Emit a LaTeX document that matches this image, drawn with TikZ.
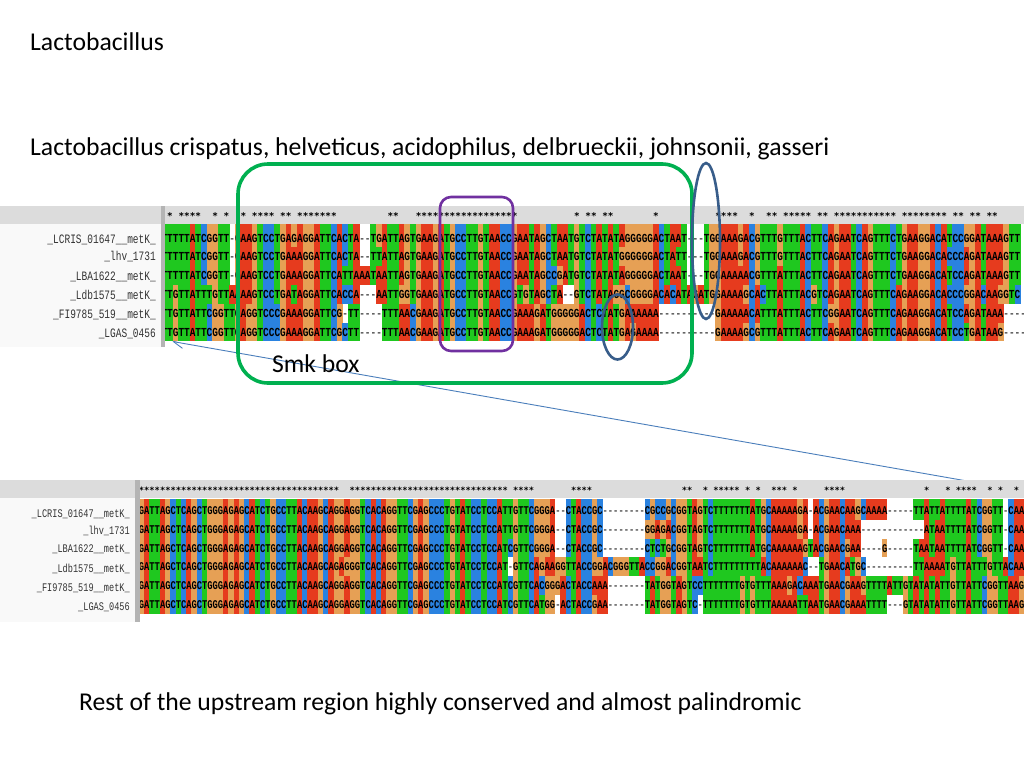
\documentclass[tikz,border=0pt]{standalone}
\usepackage{fontspec}
\usepackage{graphicx}
\setmainfont{Carlito}
\newfontfamily\seqfont{Liberation Mono}
\newfontfamily\starfont{DejaVu Sans Mono}
\usetikzlibrary{shapes.geometric,arrows.meta}
\definecolor{seqA}{HTML}{E63B1E}
\definecolor{seqT}{HTML}{1FC81F}
\definecolor{seqC}{HTML}{2A82E0}
\definecolor{seqG}{HTML}{E6A055}
\definecolor{dashgray}{HTML}{555555}
\definecolor{headband}{HTML}{DCDCDC}
\definecolor{labelbg}{HTML}{F9F9F9}
\definecolor{sepbar}{HTML}{B4B4B4}
\definecolor{boxgreen}{HTML}{00B050}
\definecolor{boxpurple}{HTML}{7030A0}
\definecolor{ovalblue}{HTML}{385D8A}
\definecolor{leaderblue}{HTML}{4A7EBB}
\tikzset{
  slidetext/.style={anchor=base west,inner sep=0pt,font=\fontsize{25.67}{30}\selectfont},
  toplabel/.style={anchor=base east,inner sep=0pt,text=black!80,font=\seqfont\fontsize{9.5}{10}\selectfont},
  botlabel/.style={anchor=base east,inner sep=0pt,text=black!80,font=\seqfont\fontsize{8.6}{10}\selectfont},
  seqtext/.style={anchor=base west,inner sep=0pt},
  oval/.style={draw=ovalblue,line width=2.6pt,ellipse,inner sep=0pt},
}
\newcount\ci
\def\cellone#1{\ifx#1-\else\fill[seq#1] ({\xst+\the\ci*\cw},\yt) rectangle ({\xst+\the\ci*\cw+\cw+0.4},\yb);\fi\global\advance\ci by 1 }
\def\cellsloop#1{\ifx#1\relax\else\cellone{#1}\expandafter\cellsloop\fi}
\def\txtloop#1{\ifx#1\relax\else\ifx#1-\textcolor{dashgray}{-}\else#1\fi\expandafter\txtloop\fi}
% row: string macro, top, bottom
\def\seqcells#1#2#3{\def\yt{#2}\def\yb{#3}\global\ci=0 \expandafter\cellsloop#1\relax}
\def\starfrom{1}
\ExplSyntaxOn
\NewDocumentCommand\starline{mmmmmm}{
  \int_step_inline:nn {\str_count:N #1} {
    \bool_if:nTF {
      \int_compare_p:n { ##1 >= \starfrom } &&
      \str_if_eq_p:ee {\str_item:Nn #1 {##1}} {\str_item:Nn #2 {##1}} &&
      \str_if_eq_p:ee {\str_item:Nn #1 {##1}} {\str_item:Nn #3 {##1}} &&
      \str_if_eq_p:ee {\str_item:Nn #1 {##1}} {\str_item:Nn #4 {##1}} &&
      \str_if_eq_p:ee {\str_item:Nn #1 {##1}} {\str_item:Nn #5 {##1}} &&
      \str_if_eq_p:ee {\str_item:Nn #1 {##1}} {\str_item:Nn #6 {##1}} &&
      ! \str_if_eq_p:ee {\str_item:Nn #1 {##1}} {-}
    } { * } { \hphantom{*} }
  }
}
\ExplSyntaxOff
\def\ra{TTTTTATCGGTT-GAAGTCCTGAGAGGATTCACTA--TGATTAGTGAAGATGCCTTGTAACCGAATAGCTAATGTCTATATAGGGGGACTAAT---TGGAAAGACGTTTGTTTACTTCAGAATCAGTTTCTGAAGGACATCCGGATAAAGTT}
\def\rb{TTTTTATCGGTT-GAAGTCCTGAAAGGATTCACTA--TTATTAGTGAAGATGCCTTGTAACCGAATAGCTAATGTCTATATGGGGGGACTATT---TGGAAAGACGTTTGTTTACTTCAGAATCAGTTTCTGAAGGACACCCAGATAAAGTT}
\def\rc{TTTTTATCGGTT-GAAGTCCTGAAAGGATTCATTAAATAATTAGTGAAGATGCCTTGTAACCGAATAGCCGATGTCTATATAGGGGGACTAAT---TGGAAAAACGTTTATTTACTTCAGAATCAGTTTCTGAAGGACATCCAGATAAAGTT}
\def\rd{TTGTTATTTGTTAAAAGTCCTGATAGGATTCACCA---AATTGGTGAAGATGCCTTGTAACCGTGTAGCTA--GTCTATAGGCGGGGACACATAGATGGAAAAGCACTTATTTACGTCAGAATCAGTTTCAGAAGGACACCCGGACAAGGTC}
\def\re{TTGTTATTCGGTTGAGGTCCCGAAAGGATTCG-TT----TTTAACGAAGATGCCTTGTAACCGAAAGATGGGGGACTCTATGAAAAAA----------GAAAAACATTTATTTACTTCGGAATCAGTTTCAGAAGGACATCCAGATAAA----}
\def\rf{TTGTTATTCGGTTGAGGTCCCGAAAGGATTCGCTT----TTTAACGAAGATGCCTTGTAACCGAAAGATGGGGGACTCTATGAGAAAA----------GAAAAGCGTTTATTTACTTCAGAATCAGTTTCAGAAGGACATCCTGATAAG----}
\def\sa{GATTAGCTCAGCTGGGAGAGCATCTGCCTTACAAGCAGGAGGTCACAGGTTCGAGCCCTGTATCCTCCATTGTTCGGGA--CTACCGC--------CGCCGCGGTAGTCTTTTTTTATGCAAAAAGA-ACGAACAAGCAAAA-----TTATTATTTTATCGGTT-CAA}
\def\sb{GATTAGCTCAGCTGGGAGAGCATCTGCCTTACAAGCAGGAGGTCACAGGTTCGAGCCCTGTATCCTCCATTGTTCGGGA--CTACCGC--------GGAGACGGTAGTCTTTTTTTATGCAAAAAGA-ACGAACAAA------------ATAATTTTATCGGTT-CAA}
\def\sc{GATTAGCTCAGCTGGGAGAGCATCTGCCTTACAAGCAGGAGGTCACAGGTTCGAGCCCTGTATCCTCCATCGTTCGGGA--CTACCGC--------CTCTGCGGTAGTCTTTTTTTATGCAAAAAAGTACGAACGAA----G-----TAATAATTTTATCGGTT-CAA}
\def\sd{GATTAGCTCAGCTGGGAGAGCATCTGCCTTACAAGCAGAGGGTCACAGGTTCGAGCCCTGTATCCTCCAT-GTTCAGAAGGTTACCGGACGGGTTACCGGACGGTAATCTTTTTTTTTACAAAAAAC--TGAACATGC---------TTAAAATGTTATTTGTTACAA}
\def\se{GATTAGCTCAGCTGGGAGAGCATCTGCCTTACAAGCAGGAGGTCACAGGTTCGAGCCCTGTATCCTCCATCGTTCACGGGACTACCAAA-------TATGGTAGTCCTTTTTTTGTGTTTAAAGACAAATGAACGAAGTTTTATTGTATATATTGTTATTCGGTTAAG}
\def\sf{GATTAGCTCAGCTGGGAGAGCATCTGCCTTACAAGCAGGAGGTCACAGGTTCGAGCCCTGTATCCTCCATCGTTCATGG-ACTACCGAA-------TATGGTAGTC-TTTTTTTGTGTTTAAAAATTAATGAACGAAATTTT---GTATATATTGTTATTCGGTTAAG}
\begin{document}
\begin{tikzpicture}[x=1pt,y=-1pt]
\useasboundingbox (0,0) rectangle (1024,768);
\fill[white] (0,0) rectangle (1024,768);
% leader line lies under the panels
\coordinate (leadEnd) at (172.5,341.5);
\coordinate (leadStart) at (967,481);
\draw[leaderblue,line width=0.9pt,-{Straight Barb[length=10pt,width=10pt,line width=0.9pt]}] (leadStart) -- (leadEnd);
% top panel
\fill[labelbg] (0,224) rectangle (162,347);
\fill[headband] (0,206) rectangle (1024,224);
\fill[sepbar] (161,206) rectangle (165,347);
\begin{scope}
\clip (165,206) rectangle (1024,347);
\def\cw{5.65}\def\xst{161.35}
\seqcells\ra{224}{247}
\seqcells\rb{247}{266}
\seqcells\rc{266}{285}
\seqcells\rd{285}{304}
\seqcells\re{304}{323}
\seqcells\rf{323}{341}
\def\seqface{\seqfont\bfseries\fontsize{9.415}{10}\selectfont}
\def\starfrom{2}
\node[seqtext,font=\starfont\bfseries\fontsize{9.386}{10}\selectfont] (topstars) at (\xst,219.5) {\starline\ra\rb\rc\rd\re\rf};
\node[seqtext,font=\seqface] (topa) at (\xst,242) {\scalebox{1}[1.3]{\expandafter\txtloop\ra\relax}};
\node[seqtext,font=\seqface] (topb) at (\xst,260.5) {\scalebox{1}[1.3]{\expandafter\txtloop\rb\relax}};
\node[seqtext,font=\seqface] (topc) at (\xst,279.5) {\scalebox{1}[1.3]{\expandafter\txtloop\rc\relax}};
\node[seqtext,font=\seqface] (topd) at (\xst,298.5) {\scalebox{1}[1.3]{\expandafter\txtloop\rd\relax}};
\node[seqtext,font=\seqface] (tope) at (\xst,317.5) {\scalebox{1}[1.3]{\expandafter\txtloop\re\relax}};
\node[seqtext,font=\seqface] (topf) at (\xst,336.5) {\scalebox{1}[1.3]{\expandafter\txtloop\rf\relax}};
\end{scope}
\node[toplabel] (lta) at (156,243.5) {\scalebox{1}[1.35]{\_LCRIS\_01647\_\_metK\_}};
\node[toplabel] (ltb) at (156,260) {\scalebox{1}[1.35]{\_lhv\_1731}};
\node[toplabel] (ltc) at (156,280) {\scalebox{1}[1.35]{\_LBA1622\_\_metK\_}};
\node[toplabel] (ltd) at (156,299) {\scalebox{1}[1.35]{\_Ldb1575\_\_metK\_}};
\node[toplabel] (lte) at (156,318) {\scalebox{1}[1.35]{\_FI9785\_519\_\_metK\_}};
\node[toplabel] (ltf) at (156,337) {\scalebox{1}[1.35]{\_LGAS\_0456}};
% bottom panel
\fill[labelbg] (0,498) rectangle (136,622);
\fill[headband] (0,480) rectangle (1024,498);
\fill[sepbar] (135,480) rectangle (140,622);
\begin{scope}
\clip (140,480) rectangle (1024,622);
\def\cw{5.27}\def\xst{138.73}
\seqcells\sa{498.5}{520}
\seqcells\sb{520}{538.5}
\seqcells\sc{538.5}{557}
\seqcells\sd{557}{576}
\seqcells\se{576}{595}
\seqcells\sf{595}{614}
\def\seqface{\seqfont\bfseries\fontsize{8.782}{10}\selectfont}
\def\starfrom{1}
\node[seqtext,font=\starfont\bfseries\fontsize{8.754}{10}\selectfont] (botstars) at (\xst,493.5) {\starline\sa\sb\sc\sd\se\sf};
\node[seqtext,font=\seqface] (bota) at (\xst,514.5) {\scalebox{1}[1.35]{\expandafter\txtloop\sa\relax}};
\node[seqtext,font=\seqface] (botb) at (\xst,533) {\scalebox{1}[1.35]{\expandafter\txtloop\sb\relax}};
\node[seqtext,font=\seqface] (botc) at (\xst,552) {\scalebox{1}[1.35]{\expandafter\txtloop\sc\relax}};
\node[seqtext,font=\seqface] (botd) at (\xst,570.5) {\scalebox{1}[1.35]{\expandafter\txtloop\sd\relax}};
\node[seqtext,font=\seqface] (bote) at (\xst,589.5) {\scalebox{1}[1.35]{\expandafter\txtloop\se\relax}};
\node[seqtext,font=\seqface] (botf) at (\xst,608.5) {\scalebox{1}[1.35]{\expandafter\txtloop\sf\relax}};
\end{scope}
\node[botlabel] (lba) at (130,517.5) {\scalebox{1}[1.35]{\_LCRIS\_01647\_\_metK\_}};
\node[botlabel] (lbb) at (130,534) {\scalebox{1}[1.35]{\_lhv\_1731}};
\node[botlabel] (lbc) at (130,552) {\scalebox{1}[1.35]{\_LBA1622\_\_metK\_}};
\node[botlabel] (lbd) at (130,572) {\scalebox{1}[1.35]{\_Ldb1575\_\_metK\_}};
\node[botlabel] (lbe) at (130,591) {\scalebox{1}[1.35]{\_FI9785\_519\_\_metK\_}};
\node[botlabel] (lbf) at (130,610) {\scalebox{1}[1.35]{\_LGAS\_0456}};
% annotations
\draw[boxgreen,line width=3.6pt,rounded corners=30pt] (238,164) rectangle (692,383);
\draw[boxpurple,line width=2.6pt,rounded corners=11pt] (440,197) rectangle (513,351);
\node[oval,minimum width=28pt,minimum height=156pt] (ovalA) at (706,241) {};
\node[oval,minimum width=31pt,minimum height=65pt] (ovalB) at (617.5,327) {};
% slide texts
\node[slidetext] (title) at (30,50) {Lactobacillus};
\node[slidetext] (species) at (30,155) {Lactobacillus crispatus, helveticus, acidophilus, delbrueckii, johnsonii, gasseri};
\node[slidetext] (smk) at (272,372) {Smk box};
\node[slidetext] (rest) at (79,710) {Rest of the upstream region highly conserved and almost palindromic};
\end{tikzpicture}
\end{document}
